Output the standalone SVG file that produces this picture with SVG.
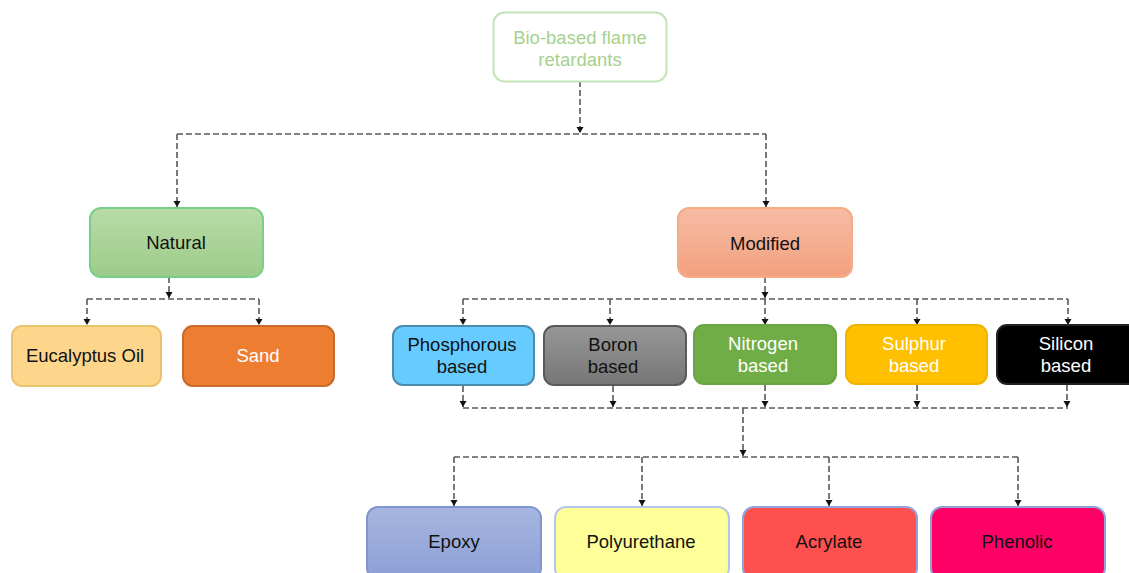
<svg xmlns="http://www.w3.org/2000/svg" width="1129" height="573" viewBox="0 0 1129 573">
<style>
.t{font-family:"Liberation Sans",Arial,sans-serif;font-size:18.5px;text-anchor:middle}
.k{fill:#111}
.w{fill:#fff}
.c{fill:none;stroke:#595959;stroke-width:1.6;stroke-dasharray:6,3}
.a{marker-end:url(#ar)}
</style>
<defs>
<marker id="ar" markerUnits="userSpaceOnUse" markerWidth="8" markerHeight="8" viewBox="0 0 8 8" refX="7" refY="4" orient="auto">
<path d="M1,0.5 L7,4 L1,7.5 Z" fill="#111"/>
</marker>
<linearGradient id="gNat" x1="0" y1="0" x2="0" y2="1"><stop offset="0" stop-color="#b8dba8"/><stop offset="1" stop-color="#9ecb88"/></linearGradient>
<linearGradient id="gMod" x1="0" y1="0" x2="0" y2="1"><stop offset="0" stop-color="#f6bca4"/><stop offset="1" stop-color="#f3a07f"/></linearGradient>
<linearGradient id="gBor" x1="0" y1="0" x2="0" y2="1"><stop offset="0" stop-color="#979797"/><stop offset="1" stop-color="#767676"/></linearGradient>
<linearGradient id="gEpo" x1="0" y1="0" x2="0" y2="1"><stop offset="0" stop-color="#a7b6e0"/><stop offset="1" stop-color="#8c9fd6"/></linearGradient>
</defs>
<rect width="1129" height="573" fill="#fff"/>
<g id="connectors">
<path class="c a" d="M580 81 V133"/>
<path class="c" d="M177 134 H766"/>
<path class="c a" d="M177 134 V207"/>
<path class="c a" d="M766 134 V207"/>
<path class="c a" d="M169 277 V298"/>
<path class="c" d="M87 299 H259"/>
<path class="c a" d="M87 299 V325"/>
<path class="c a" d="M259 299 V325"/>
<path class="c a" d="M765 277 V298"/>
<path class="c" d="M463 299 H1068"/>
<path class="c a" d="M463 299 V325"/>
<path class="c a" d="M610 299 V325"/>
<path class="c a" d="M765 299 V325"/>
<path class="c a" d="M917 299 V325"/>
<path class="c a" d="M1068 299 V325"/>
<path class="c a" d="M463 386 V407"/>
<path class="c a" d="M613 386 V407"/>
<path class="c a" d="M765 385 V407"/>
<path class="c a" d="M917 385 V407"/>
<path class="c a" d="M1067 385 V407"/>
<path class="c" d="M463 408 H1068"/>
<path class="c a" d="M743 408 V456"/>
<path class="c" d="M454 457 H1018"/>
<path class="c a" d="M454 457 V506"/>
<path class="c a" d="M642 457 V506"/>
<path class="c a" d="M829 457 V506"/>
<path class="c a" d="M1018 457 V506"/>
</g>
<g id="n-root">
<rect x="493.5" y="12.5" width="173" height="69" rx="11" fill="#fff" stroke="#c5e3b6" stroke-width="2"/>
<text class="t" x="580" y="44" fill="#a6d18e">Bio-based flame</text>
<text class="t" x="580" y="66" fill="#a6d18e">retardants</text>
</g>
<g id="n-natural">
<rect x="90" y="208" width="173" height="69" rx="11" fill="url(#gNat)" stroke="#78cf8a" stroke-width="2"/>
<text class="t k" x="176" y="249">Natural</text>
</g>
<g id="n-modified">
<rect x="678" y="208" width="174" height="69" rx="11" fill="url(#gMod)" stroke="#f4ab86" stroke-width="2"/>
<text class="t k" x="765" y="250">Modified</text>
</g>
<g id="n-eucalyptus">
<rect x="12" y="326" width="149" height="60" rx="10" fill="#fdd68c" stroke="#eac36d" stroke-width="2"/>
<text class="t k" x="85" y="362">Eucalyptus Oil</text>
</g>
<g id="n-sand">
<rect x="183" y="326" width="151" height="60" rx="10" fill="#ed7d31" stroke="#c9692a" stroke-width="2"/>
<text class="t w" x="258" y="362">Sand</text>
</g>
<g id="n-phosphorous">
<rect x="393" y="326" width="141" height="59" rx="10" fill="#66ccff" stroke="#4b8bab" stroke-width="2"/>
<text class="t k" x="462" y="351">Phosphorous</text>
<text class="t k" x="462" y="373">based</text>
</g>
<g id="n-boron">
<rect x="544" y="326" width="142" height="59" rx="10" fill="url(#gBor)" stroke="#5a5a5a" stroke-width="2"/>
<text class="t k" x="613" y="351">Boron</text>
<text class="t k" x="613" y="373">based</text>
</g>
<g id="n-nitrogen">
<rect x="694" y="325" width="142" height="59" rx="10" fill="#70ad47" stroke="#6aa444" stroke-width="2"/>
<text class="t w" x="763" y="350">Nitrogen</text>
<text class="t w" x="763" y="372">based</text>
</g>
<g id="n-sulphur">
<rect x="846" y="325" width="141" height="59" rx="10" fill="#ffc000" stroke="#efb400" stroke-width="2"/>
<text class="t w" x="914" y="350">Sulphur</text>
<text class="t w" x="914" y="372">based</text>
</g>
<g id="n-silicon">
<rect x="997" y="325" width="142" height="59" rx="10" fill="#000" stroke="#222" stroke-width="2"/>
<text class="t w" x="1066" y="350">Silicon</text>
<text class="t w" x="1066" y="372">based</text>
</g>
<g id="n-epoxy">
<rect x="367" y="507" width="174" height="72" rx="11" fill="url(#gEpo)" stroke="#7f96cf" stroke-width="2"/>
<text class="t k" x="454" y="548">Epoxy</text>
</g>
<g id="n-polyurethane">
<rect x="555" y="507" width="174" height="72" rx="11" fill="#ffff99" stroke="#b4c6e6" stroke-width="2"/>
<text class="t k" x="641" y="548">Polyurethane</text>
</g>
<g id="n-acrylate">
<rect x="743" y="507" width="174" height="72" rx="11" fill="#ff5050" stroke="#8fa5d9" stroke-width="2"/>
<text class="t k" x="829" y="548">Acrylate</text>
</g>
<g id="n-phenolic">
<rect x="931" y="507" width="174" height="72" rx="11" fill="#ff0066" stroke="#8fa5d9" stroke-width="2"/>
<text class="t k" x="1017" y="548">Phenolic</text>
</g>
</svg>
